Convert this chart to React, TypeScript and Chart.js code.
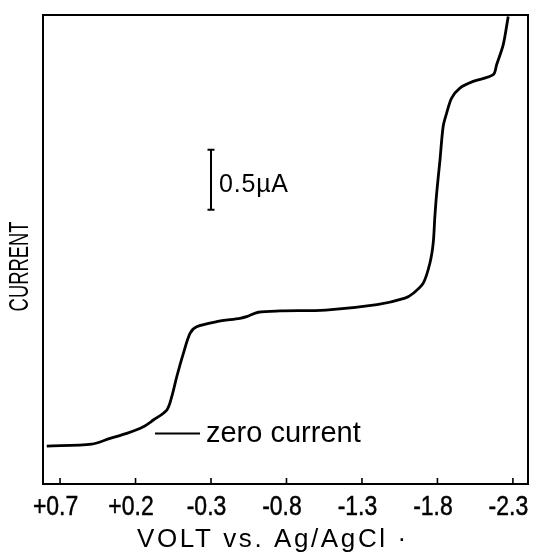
import React, { useEffect, useRef } from "react";
import { Chart, registerables } from "chart.js";

Chart.register(...registerables);

// Polarogram: potential (V vs Ag/AgCl) and current (µA, relative to zero current)
const VOLTS = [
  0.788, 0.49, 0.369, 0.258, 0.148, 0.082, -0.007, -0.04, -0.073, -0.117, -0.161, -0.205,
  -0.338, -0.492, -0.536, -0.613, -0.757, -1.06, -1.4, -1.585, -1.64, -1.706, -1.75,
  -1.772, -1.783, -1.795, -1.817, -1.838, -1.861, -1.894, -1.949, -2.037, -2.17, -2.192,
  -2.236, -2.269,
];
const CURRENT_UA = [
  -0.104, -0.088, -0.04, 0.002, 0.057, 0.113, 0.196, 0.307, 0.473, 0.668, 0.835, 0.89,
  0.932, 0.96, 0.973, 1.01, 1.021, 1.028, 1.073, 1.127, 1.168, 1.252, 1.418, 1.585, 1.807,
  2.002, 2.279, 2.557, 2.668, 2.793, 2.877, 2.932, 2.988, 3.071, 3.238, 3.473,
];

const TICK_VALUES = [0.7, 0.2, -0.3, -0.8, -1.3, -1.8, -2.3];
const TICK_LABELS = ["+0.7", "+0.2", "-0.3", "-0.8", "-1.3", "-1.8", "-2.3"];

const X_MIN = -2.4;
const X_MAX = 0.813;
const Y_MIN = -0.42;
const Y_MAX = 3.485;

const X_TITLE = "VOLT vs. Ag/AgCl ·";
const Y_TITLE = "CURRENT";

const SCALE_BAR_V = -0.3;
const SCALE_BAR_FROM = 1.8625;
const SCALE_BAR_TO = 2.3625;
const SCALE_BAR_LABEL = "0.5µA";

const ZERO_MARK_FROM = 0.071;
const ZERO_MARK_TO = -0.227;
const ZERO_LABEL = "zero current";

const FONT = "'Liberation Sans', Arial, sans-serif";

const decorPlugin = {
  id: "decor",
  afterDraw(chart: any) {
    const { ctx, chartArea } = chart;
    const xs = chart.scales.x;
    const ys = chart.scales.y;
    ctx.save();
    ctx.strokeStyle = "#000";
    ctx.fillStyle = "#000";
    // frame
    ctx.lineWidth = 2;
    ctx.strokeRect(chartArea.left, chartArea.top, chartArea.right - chartArea.left, chartArea.bottom - chartArea.top);
    // inner ticks + condensed tick labels placed by the x scale
    ctx.lineWidth = 1.6;
    ctx.font = `28px ${FONT}`;
    ctx.textAlign = "center";
    ctx.textBaseline = "alphabetic";
    xs.ticks.forEach((t: any, i: number) => {
      const x = xs.getPixelForValue(t.value);
      ctx.beginPath();
      ctx.moveTo(x, chartArea.bottom);
      ctx.lineTo(x, chartArea.bottom - 6);
      ctx.stroke();
      ctx.save();
      ctx.translate(x - 4.5, chartArea.bottom + 31);
      ctx.scale(0.82, 1);
      ctx.lineWidth = 0.5;
      ctx.fillText(TICK_LABELS[i], 0, 0);
      ctx.strokeText(TICK_LABELS[i], 0, 0);
      ctx.restore();
    });
    // scale bar
    const bx = xs.getPixelForValue(SCALE_BAR_V);
    const by1 = ys.getPixelForValue(SCALE_BAR_FROM);
    const by2 = ys.getPixelForValue(SCALE_BAR_TO);
    ctx.lineWidth = 2;
    ctx.beginPath();
    ctx.moveTo(bx, by1);
    ctx.lineTo(bx, by2);
    ctx.moveTo(bx - 3.5, by1);
    ctx.lineTo(bx + 3.5, by1);
    ctx.moveTo(bx - 3.5, by2);
    ctx.lineTo(bx + 3.5, by2);
    ctx.stroke();
    ctx.font = `25px ${FONT}`;
    ctx.textAlign = "left";
    ctx.textBaseline = "alphabetic";
    (ctx as any).letterSpacing = "0.8px";
    ctx.fillText(SCALE_BAR_LABEL, bx + 8, (by1 + by2) / 2 + 12);
    (ctx as any).letterSpacing = "0px";
    // zero current mark
    const zy = ys.getPixelForValue(0);
    const zx1 = xs.getPixelForValue(ZERO_MARK_FROM);
    const zx2 = xs.getPixelForValue(ZERO_MARK_TO);
    ctx.lineWidth = 2;
    ctx.beginPath();
    ctx.moveTo(zx1, zy);
    ctx.lineTo(zx2, zy);
    ctx.stroke();
    ctx.font = `29px ${FONT}`;
    ctx.fillText(ZERO_LABEL, zx2 + 6, zy + 8.5);
    // x title
    ctx.font = `26px ${FONT}`;
    (ctx as any).letterSpacing = "2.6px";
    ctx.textAlign = "left";
    ctx.textBaseline = "alphabetic";
    ctx.fillText(X_TITLE, 137, 547);
    (ctx as any).letterSpacing = "0px";
    // y title (condensed)
    ctx.translate(21, (chartArea.top + chartArea.bottom) / 2 + 17);
    ctx.rotate(-Math.PI / 2);
    ctx.scale(0.68, 1);
    ctx.font = `27px ${FONT}`;
    ctx.textAlign = "center";
    ctx.textBaseline = "middle";
    ctx.fillText(Y_TITLE, 0, 0);
    ctx.restore();
  },
};

export default function App() {
  const ref = useRef<HTMLCanvasElement | null>(null);
  useEffect(() => {
    if (!ref.current) return;
    const chart = new Chart(ref.current, {
      type: "line",
      data: {
        datasets: [
          {
            data: VOLTS.map((v, i) => ({ x: v, y: CURRENT_UA[i] })),
            borderColor: "#000",
            borderWidth: 2.8,
            pointRadius: 0,
            fill: false,
            tension: 0.3,
          },
        ],
      },
      options: {
        animation: false,
        responsive: false,
        maintainAspectRatio: false,
        layout: { padding: { left: 43, right: 7, top: 15, bottom: 0 } },
        plugins: { legend: { display: false }, tooltip: { enabled: false }, title: { display: false } },
        scales: {
          x: {
            type: "linear",
            reverse: true,
            min: X_MIN,
            max: X_MAX,
            grid: { display: false, drawTicks: false },
            border: { display: false },
            afterBuildTicks: (scale: any) => {
              scale.ticks = TICK_VALUES.map((v) => ({ value: v }));
            },
            afterFit: (scale: any) => {
              scale.height = 75;
            },
            ticks: {
              display: false,
              autoSkip: false,
              maxRotation: 0,
              minRotation: 0,
            },
          },
          y: {
            type: "linear",
            display: false,
            min: Y_MIN,
            max: Y_MAX,
          },
        },
      },
      plugins: [decorPlugin],
    });
    return () => chart.destroy();
  }, []);
  return (
    <div style={{ position: "absolute", left: 0, top: 0, width: 535, height: 559, background: "#fff" }}>
      <canvas ref={ref} width={535} height={559} style={{ display: "block", width: 535, height: 559 }} />
    </div>
  );
}
